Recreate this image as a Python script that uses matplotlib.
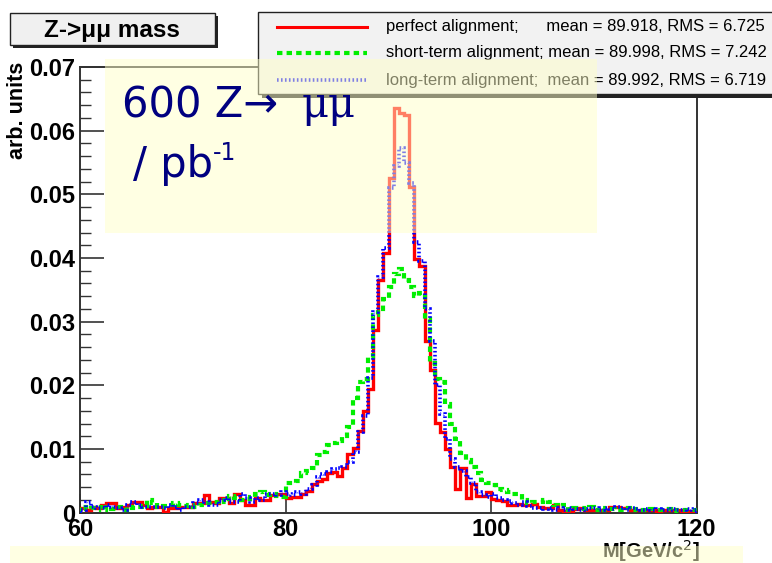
import numpy as np
import matplotlib
matplotlib.use("Agg")
import matplotlib.pyplot as plt
from matplotlib.patches import Rectangle
from matplotlib.lines import Line2D
from matplotlib.ticker import MultipleLocator

# ---------------- data (arb. units, x 1e-3) ----------------
bin_lo, bin_hi, n_bins = 60.0, 120.0, 120

perfect = [
    0.7, 0.4, 0.9, 0.7, 1.2, 1.5, 1.5, 0.7, 0.9, 1.2,
    1.7, 1.7, 1.2, 0.7, 0.9, 0.9, 0.15, 0.7, 0.7, 0.9,
    0.9, 0.9, 1.5, 1.5, 2.8, 1.7, 1.5, 2.3, 2.3, 1.5,
    3.0, 2.0, 1.2, 1.2, 2.3, 2.0, 2.0, 2.8, 3.0, 3.0,
    2.3, 2.4, 2.4, 3.0, 3.4, 4.5, 5.0, 5.3, 6.2, 6.4,
    5.8, 7.0, 9.2, 10.2, 12.8, 15.9, 19.5, 28.7, 36.6, 40.8,
    52.6, 63.5, 62.8, 62.4, 51.2, 39.9, 38.7, 26.9, 22.4, 14.1,
    12.6, 10.0, 7.2, 3.8, 7.0, 2.3, 4.5, 2.6, 2.6, 3.2,
    2.1, 2.0, 1.9, 1.2, 1.2, 1.4, 1.2, 1.2, 1.4, 0.9,
    0.7, 0.7, 1.2, 0.5, 0.3, 0.3, 0.6, 0.7, 0.4, 0.4,
    0.4, 0.4, 0.5, 0.9, 0.9, 0.7, 0.7, 0.4, 0.4, 0.4,
    0.5, 0.4, 0.3, 0.4, 0.4, 0.5, 0.5, 0.3, 0.2, 0.2,
]

short_term = [
    0.9, 0.6, 0.7, 0.9, 0.5, 0.9, 0.6, 0.9, 0.4, 0.9,
    0.7, 0.9, 1.0, 2.0, 1.5, 0.9, 1.0, 1.2, 1.5, 1.2,
    1.0, 1.2, 0.9, 1.2, 1.5, 1.5, 1.7, 2.0, 1.7, 2.6,
    2.3, 2.0, 2.2, 2.4, 3.0, 3.3, 2.8, 3.0, 2.6, 2.5,
    4.6, 4.7, 5.0, 6.2, 6.5, 7.0, 9.0, 9.5, 10.6, 11.0,
    11.2, 12.0, 13.5, 18.0, 20.5, 21.0, 24.5, 31.0, 32.0, 33.5,
    35.5, 37.5, 38.3, 36.5, 35.5, 34.0, 34.5, 30.5, 23.5, 21.0,
    20.5, 17.0, 14.0, 11.5, 9.3, 8.3, 7.2, 6.2, 5.1, 4.6,
    4.4, 3.8, 3.6, 3.3, 3.0, 3.0, 2.0, 1.5, 1.7, 1.7,
    2.0, 1.7, 1.2, 1.0, 1.2, 0.5, 0.7, 0.7, 0.6, 0.9,
    0.5, 0.7, 0.4, 0.6, 0.5, 0.4, 0.7, 0.5, 0.6, 0.4,
    0.5, 0.6, 0.4, 0.4, 0.6, 0.3, 0.5, 0.4, 0.5, 0.4,
]

long_term = [
    0.4, 1.7, 0.9, 0.7, 0.7, 1.2, 0.9, 0.7, 0.4, 1.2,
    1.7, 1.2, 0.9, 0.9, 0.9, 0.9, 0.7, 1.2, 0.9, 0.4,
    0.9, 0.9, 1.5, 2.0, 1.7, 1.2, 1.2, 2.0, 2.3, 1.7,
    1.7, 3.0, 2.3, 1.7, 2.3, 2.0, 3.0, 3.0, 2.8, 3.2,
    3.0, 2.8, 3.3, 3.0, 3.8, 4.4, 5.6, 6.0, 6.4, 6.8,
    7.0, 7.2, 8.0, 9.5, 12.7, 15.2, 21.2, 31.5, 37.0, 41.5,
    51.0, 54.5, 57.3, 55.0, 51.8, 42.5, 39.5, 32.0, 27.0, 20.0,
    15.5, 11.5, 8.5, 7.2, 6.5, 5.6, 4.6, 3.2, 2.8, 2.4,
    3.0, 2.3, 2.0, 1.8, 1.5, 1.2, 1.7, 1.0, 0.8, 0.7,
    0.6, 0.8, 0.4, 0.7, 0.5, 0.7, 0.6, 0.5, 0.6, 0.7,
    0.7, 0.5, 0.7, 0.6, 0.9, 0.8, 0.5, 0.7, 0.6, 0.5,
    0.6, 0.4, 0.6, 0.5, 0.4, 0.6, 0.5, 0.4, 0.6, 0.5,
]

legend_labels = [
    "perfect alignment;      mean = 89.918, RMS = 6.725",
    "short-term alignment; mean = 89.998, RMS = 7.242",
    "long-term alignment;  mean = 89.992, RMS = 6.719",
]
x_ticks = [60, 80, 100, 120]
y_ticks = [0, 0.01, 0.02, 0.03, 0.04, 0.05, 0.06, 0.07]
y_tick_labels = ["0", "0.01", "0.02", "0.03", "0.04", "0.05", "0.06", "0.07"]

# ---------------- figure ----------------
W, H = 772, 563
fig = plt.figure(figsize=(W / 100, H / 100), dpi=100)
fig.patch.set_facecolor("white")

def fx(px):
    return px / W

def fy(py):
    return 1 - py / H

ax_l, ax_r, ax_t, ax_b = 80.4, 696.7, 67.0, 512.7
ax = fig.add_axes([fx(ax_l), fy(ax_b), (ax_r - ax_l) / W, (ax_b - ax_t) / H])
ax.set_facecolor("white")

edges = np.linspace(bin_lo, bin_hi, n_bins + 1)
scale = 1e-3
ax.stairs(np.array(perfect) * scale, edges, color="#ff0000", lw=2.4, zorder=3)
ax.stairs(np.array(short_term) * scale, edges, color="#00ee00", lw=3.0,
          linestyle=(0, (1.3, 1.0)), zorder=4)
ax.stairs(np.array(long_term) * scale, edges, color="#0000ff", lw=2.6,
          linestyle=(0, (0.45, 0.65)), zorder=5)

ax.set_xlim(bin_lo, bin_hi)
ax.set_ylim(0, 0.07)

tick_font = dict(family=["Liberation Sans", "DejaVu Sans"], weight="bold", size=17)
ax.set_xticks(x_ticks)
ax.set_xticklabels([str(t) for t in x_ticks], fontdict=tick_font)
ax.set_yticks(y_ticks)
ax.set_yticklabels(y_tick_labels, fontdict=tick_font)
ax.yaxis.set_minor_locator(MultipleLocator(0.002))
ax.tick_params(axis="y", which="major", direction="in", length=17, width=1.2,
               color="#333333", pad=4, right=False)
ax.tick_params(axis="y", which="minor", direction="in", length=8, width=1.0,
               color="#333333", right=False)
ax.tick_params(axis="x", which="major", direction="in", length=14, width=1.2,
               color="#333333", pad=4, top=False)
for s in ax.spines.values():
    s.set_linewidth(1.4)
    s.set_color("#333333")

# y label
fig.text(fx(18), fy(62), "arb. units", rotation=90, ha="center", va="top",
         family=["Liberation Sans", "DejaVu Sans"], weight="bold", size=15.5)

# ---------------- overlay (pixel coords) ----------------
ov = fig.add_axes([0, 0, 1, 1], zorder=10)
ov.set_xlim(0, W)
ov.set_ylim(H, 0)
ov.axis("off")
ov.patch.set_alpha(0)

# title box with shadow
ov.add_patch(Rectangle((13, 16), 205, 32, facecolor="#222222", edgecolor="none", zorder=1))
ov.add_patch(Rectangle((10, 13), 205, 32, facecolor="#f0f0f0", edgecolor="#222222",
                       lw=1.0, zorder=2))
ov.text(112, 30, "Z->\u03bc\u03bc mass", ha="center", va="center",
        family=["Liberation Sans", "DejaVu Sans"], weight="bold", size=17.5, zorder=3)

# legend box with shadow
ov.add_patch(Rectangle((262, 16), 530, 82, facecolor="#222222", edgecolor="none", zorder=1))
ov.add_patch(Rectangle((258, 12), 530, 82, facecolor="#f2f2f2", edgecolor="#222222",
                       lw=1.0, zorder=2))
leg_y = [27, 53, 80]
leg_styles = [
    dict(color="#ff0000", lw=2.2, linestyle="-"),
    dict(color="#00ee00", lw=3.0, linestyle=(0, (1.3, 1.0))),
    dict(color="#0000ff", lw=2.6, linestyle=(0, (0.45, 0.65))),
]
for yy, lab, st in zip(leg_y, legend_labels, leg_styles):
    ov.add_line(Line2D([277, 367], [yy, yy], zorder=3, **st))
    ov.text(386, yy, lab, ha="left", va="center",
            family=["Liberation Sans", "DejaVu Sans"], size=12, zorder=3)

# x-axis title (under the bottom band)
ov.text(700, 551, "M[GeV/c$^{2}$]", ha="right", va="center",
        family=["Liberation Sans", "DejaVu Sans"],
        weight="bold", size=14.5, color="black", zorder=3)

# translucent yellow panels
ov.add_patch(Rectangle((105, 59), 492, 174, facecolor="#ffffc8", alpha=0.5,
                       edgecolor="none", zorder=5))
ov.add_patch(Rectangle((10, 546), 733, 17, facecolor="#ffffc8", alpha=0.5,
                       edgecolor="none", zorder=5))

# big annotation
navy = "#000080"
ov.text(122, 117, "600 Z\u2192", ha="left", va="baseline", family="DejaVu Sans",
        size=30, color=navy, zorder=6)
ov.text(302, 117, "\u03bc\u03bc", ha="left", va="baseline",
        family=["DejaVu Serif"], size=30, color=navy, zorder=6)
ov.text(133, 177, "/ pb", ha="left", va="baseline", family="DejaVu Sans",
        size=30, color=navy, zorder=6)
ov.text(213, 160, "-1", ha="left", va="baseline", family="DejaVu Sans",
        size=17, color=navy, zorder=6)

fig.savefig("out.png", dpi=100)
